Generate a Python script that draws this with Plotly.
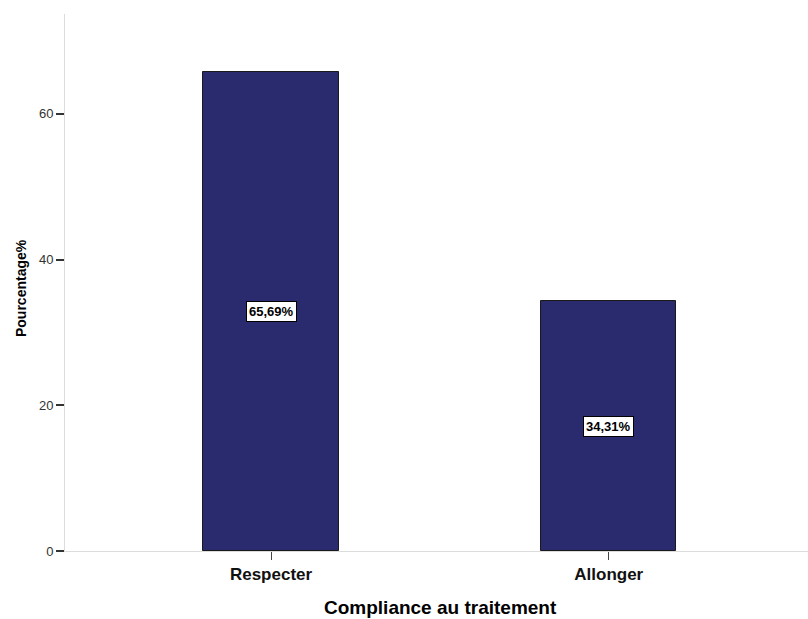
import plotly.graph_objects as go

# Treatment compliance distribution
categories = ["Respecter", "Allonger"]
percentages = [65.69, 34.31]
y_ticks = [0, 20, 40, 60]

bar_color = "#2a2a6e"
font_family = "Liberation Sans, Arial, sans-serif"

fig = go.Figure(
    go.Bar(
        x=categories,
        y=percentages,
        width=0.40,
        marker=dict(color=bar_color, line=dict(color="#1a1a1a", width=1)),
        hoverinfo="skip",
    )
)

# Value labels in white boxes at mid-height of each bar
for cat, val in zip(categories, percentages):
    fig.add_annotation(
        x=cat,
        y=val / 2,
        text="<b>" + f"{val:.2f}".replace(".", ",") + "%</b>",
        showarrow=False,
        font=dict(family=font_family, size=13, color="#000000"),
        bgcolor="#ffffff",
        bordercolor="#000000",
        borderwidth=1,
        borderpad=2,
    )

# Axis titles
fig.add_annotation(
    xref="paper", yref="paper", x=0.505, y=-0.105,
    text="<b>Compliance au traitement</b>",
    showarrow=False, yanchor="middle",
    font=dict(family=font_family, size=19, color="#000000"),
)
fig.add_annotation(
    xref="paper", yref="paper", x=-0.059, y=0.49,
    text="<b>Pourcentage%</b>",
    showarrow=False, textangle=-90, xanchor="center",
    font=dict(family=font_family, size=14, color="#000000"),
)

fig.update_layout(
    width=808,
    height=619,
    margin=dict(l=65, r=0, t=14, b=68),
    paper_bgcolor="#ffffff",
    plot_bgcolor="#ffffff",
    showlegend=False,
    bargap=0,
)

fig.update_xaxes(
    range=[-0.61, 1.59],
    showline=True, linecolor="#dcdcdc", linewidth=1,
    showgrid=False, zeroline=False,
    ticks="outside", ticklen=8, tickwidth=1, tickcolor="#444444",
    tickfont=dict(family=font_family, size=17, color="#111111"),
    tickprefix="<b>", ticksuffix="</b>",
)
fig.update_yaxes(
    range=[0, 73.7],
    tickvals=y_ticks,
    showline=True, linecolor="#dcdcdc", linewidth=1,
    showgrid=False, zeroline=False,
    ticks="outside", ticklen=8, tickwidth=1.5, tickcolor="#333333",
    tickfont=dict(family=font_family, size=13, color="#333333"),
)

fig.write_html("out.html")
